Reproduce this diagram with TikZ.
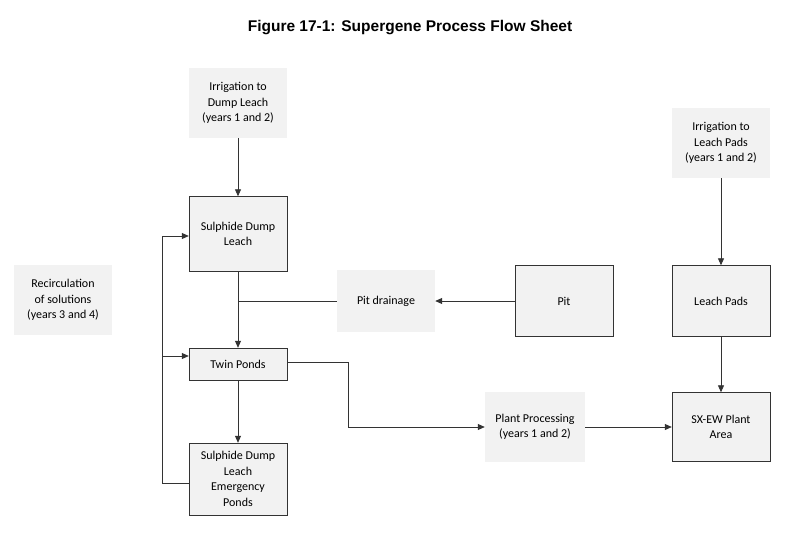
\documentclass[tikz,border=0pt]{standalone}
\usepackage{fontspec}
\setmainfont{Carlito}
\newfontfamily\titlefont{Liberation Sans}
\usetikzlibrary{arrows.meta}
\begin{document}
\begin{tikzpicture}[x=1pt,y=-1pt,
  soft/.style={fill=black!5,minimum width=98pt,align=center,font=\fontsize{12}{15.5}\selectfont,inner sep=2pt},
  hard/.style={draw=black!80,fill=black!5,minimum width=98pt,align=center,font=\fontsize{12}{15.5}\selectfont,inner sep=2pt},
  arr/.style={draw=black!80,line width=0.8pt,-{Triangle[length=7pt,width=6pt]}},
  ln/.style={draw=black!80,line width=0.8pt}]
\useasboundingbox (0,0) rectangle (786,535);
\node[font=\titlefont\bfseries\fontsize{15.5}{18}\selectfont] (title) at (410,28) {Figure 17-1: Supergene Process Flow Sheet};
\node[soft,minimum height=70pt] (irr1) at (238,103) {Irrigation to\\Dump Leach\\(years 1 and 2)};
\node[hard,minimum height=75pt] (sdl) at (238,234) {Sulphide Dump\\Leach};
\node[soft,minimum height=70pt] (rec) at (63,300) {Recirculation\\of solutions\\(years 3 and 4)};
\node[soft,minimum height=62pt] (pd) at (386,301) {Pit drainage};
\node[hard,minimum height=71pt] (pit) at (564,301) {Pit};
\node[soft,minimum height=70pt] (irr2) at (721,143) {Irrigation to\\Leach Pads\\(years 1 and 2)};
\node[hard,minimum height=71pt] (lp) at (721,301) {Leach Pads};
\node[hard,minimum height=32pt] (tp) at (238,364) {Twin Ponds};
\node[hard,minimum height=72pt] (em) at (238,479) {Sulphide Dump\\Leach\\Emergency\\Ponds};
\node[soft,minimum height=70pt,minimum width=100pt] (pp) at (535,427) {Plant Processing\\(years 1 and 2)};
\node[hard,minimum height=69pt] (sx) at (721,427) {SX-EW Plant\\Area};
\coordinate (j1) at (238,301);
\coordinate (l1) at (162,483);
\coordinate (l2) at (162,236);
\coordinate (l3) at (162,356);
\coordinate (t1) at (348,362);
\coordinate (t2) at (348,427);
\draw[arr] (irr1) -- (sdl);
\draw[arr] (sdl) -- (tp);
\draw[ln] (pd.west) -- (j1);
\draw[arr] (pit) -- (pd);
\draw[arr] (tp) -- (em);
\draw[ln] (em.west |- l1) -- (l1) -- (l2);
\draw[arr] (l2) -- (sdl.west |- l2);
\draw[arr] (l3) -- (tp.west |- l3);
\draw[ln] (tp.east |- t1) -- (t1) -- (t2);
\draw[arr] (t2) -- (pp.west);
\draw[arr] (pp) -- (sx);
\draw[arr] (irr2) -- (lp);
\draw[arr] (lp) -- (sx);
\end{tikzpicture}
\end{document}
